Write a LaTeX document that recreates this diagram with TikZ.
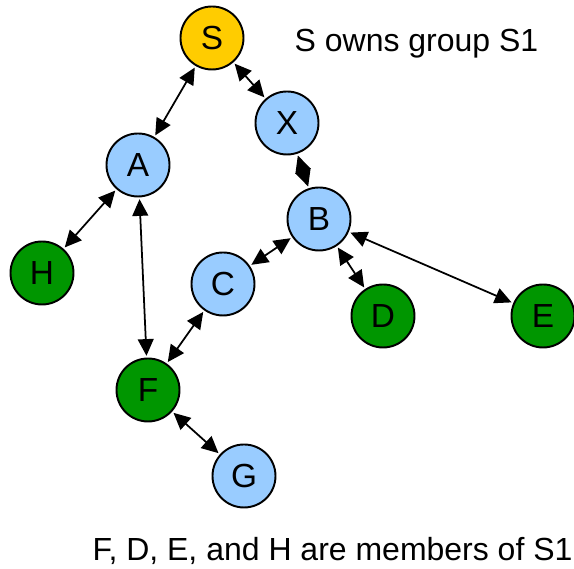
\documentclass[tikz,border=0pt]{standalone}
\usepackage{fontspec}
\setmainfont{Liberation Sans}
\usetikzlibrary{arrows.meta}

\definecolor{owner}{RGB}{255,204,0}
\definecolor{router}{RGB}{153,204,255}
\definecolor{member}{RGB}{0,150,0}

\tikzset{
  peer/.style={circle,draw=black,line width=1.1pt,minimum size=1.26cm,inner sep=0pt,font=\fontsize{19}{23}\selectfont},
  link/.style={line width=1pt,{Triangle[length=9.5pt,width=9pt]}-{Triangle[length=9.5pt,width=9pt]},shorten >=1pt,shorten <=1pt},
  caption/.style={font=\fontsize{18.2}{22}\selectfont}
}

\begin{document}
\begin{tikzpicture}
\useasboundingbox (0,0) rectangle (11.48,11.38);

\node[peer,fill=owner] (S) at (4.24,10.62) {S};
\node[peer,fill=router] (X) at (5.74,8.92) {X};
\node[peer,fill=router] (A) at (2.76,8.08) {A};
\node[peer,fill=router] (B) at (6.38,7.00) {B};
\node[peer,fill=member] (H) at (0.84,5.92) {H};
\node[peer,fill=router] (C) at (4.46,5.70) {C};
\node[peer,fill=member] (D) at (7.66,5.06) {D};
\node[peer,fill=member] (E) at (10.86,5.06) {E};
\node[peer,fill=member] (F) at (2.96,3.58) {F};
\node[peer,fill=router] (G) at (4.88,1.86) {G};

\draw[link] (S) -- (A);
\draw[link] (S) -- (X);
\draw[link] (X) -- (B);
\draw[link] (A) -- (H);
\draw[link] (A) -- (F);
\draw[link] (B) -- (C);
\draw[link] (B) -- (D);
\draw[link] (B) -- (E);
\draw[link] (C) -- (F);
\draw[link] (F) -- (G);

\node[caption] (owns) at (8.33,10.5) {S owns group S1};
\node[caption] (members) at (6.65,0.36) {F, D, E, and H are members of S1};
\end{tikzpicture}
\end{document}
